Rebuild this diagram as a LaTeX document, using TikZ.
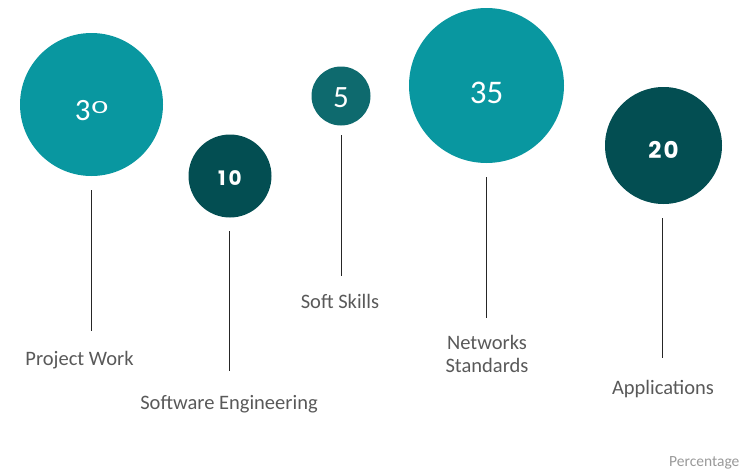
\documentclass[tikz,border=0pt]{standalone}
\usepackage{fontspec}
\usepackage{graphicx}
\setmainfont{Carlito}
\newfontfamily\widenum{Poppins}
\definecolor{tealA}{HTML}{0997A0}
\definecolor{tealD}{HTML}{034E52}
\definecolor{tealM}{HTML}{0E6A6E}
\definecolor{lbl}{HTML}{595959}
\begin{document}
\begin{tikzpicture}[x=1pt,y=-1pt,
  bub/.style={circle,inner sep=0pt,text=white},
  stem/.style={draw=black!85,line width=1pt},
  lab/.style={text=lbl,font=\fontsize{20.5}{23.5}\selectfont,align=center,inner sep=0pt}]
\useasboundingbox (0,0) rectangle (740,471);
% bubbles
\node[bub,fill=tealA,minimum size=143pt] (c1) at (91.5,104.5) {};
\node[text=white,inner sep=0pt,font=\fontsize{31}{31}\selectfont] (t1) at (91.5,111) {\raisebox{-5pt}{3}\kern1pt\raisebox{2pt}{\scalebox{1.05}[0.6]{0}}};
\node[bub,fill=tealD,minimum size=83pt] (c2) at (230,176) {};
\node[text=white,font=\widenum\bfseries\fontsize{20}{20}\selectfont] (t2) at (230,178) {1\kern3pt0};
\node[bub,fill=tealM,minimum size=59pt] (c3) at (341,96) {};
\node[text=white,font=\fontsize{31}{31}\selectfont] (t3) at (341,98) {5};
\node[bub,fill=tealA,minimum size=155pt] (c4) at (486.5,85.5) {};
\node[text=white,font=\fontsize{33}{33}\selectfont] (t4) at (486.5,93) {35};
\node[bub,fill=tealD,minimum size=117pt] (c5) at (663.5,145.5) {};
\node[text=white,font=\widenum\bfseries\fontsize{23}{23}\selectfont] (t5) at (663.5,150) {2\kern2pt0};
% stems
\coordinate (s1a) at (91.5,190); \coordinate (s1b) at (91.5,331);
\coordinate (s2a) at (229.5,231); \coordinate (s2b) at (229.5,371);
\coordinate (s3a) at (341,135); \coordinate (s3b) at (341,276);
\coordinate (s4a) at (486,177); \coordinate (s4b) at (486,318);
\coordinate (s5a) at (662.5,218); \coordinate (s5b) at (662.5,358);
\draw[stem] (s1a) -- (s1b);
\draw[stem] (s2a) -- (s2b);
\draw[stem] (s3a) -- (s3b);
\draw[stem] (s4a) -- (s4b);
\draw[stem] (s5a) -- (s5b);
% labels
\node[lab] (l1) at (79.5,360) {Project Work};
\node[lab] (l2) at (229,404) {Software Engineering};
\node[lab] (l3) at (340,301) {Soft Skills};
\node[lab] (l4) at (487,354) {Networks\\Standards};
\node[lab] (l5) at (663,389) {Applications};
\node[anchor=west,inner sep=0pt,text=black!40,font=\fontsize{15.5}{17}\selectfont] (pc) at (669,463) {Percentage};
\end{tikzpicture}
\end{document}
